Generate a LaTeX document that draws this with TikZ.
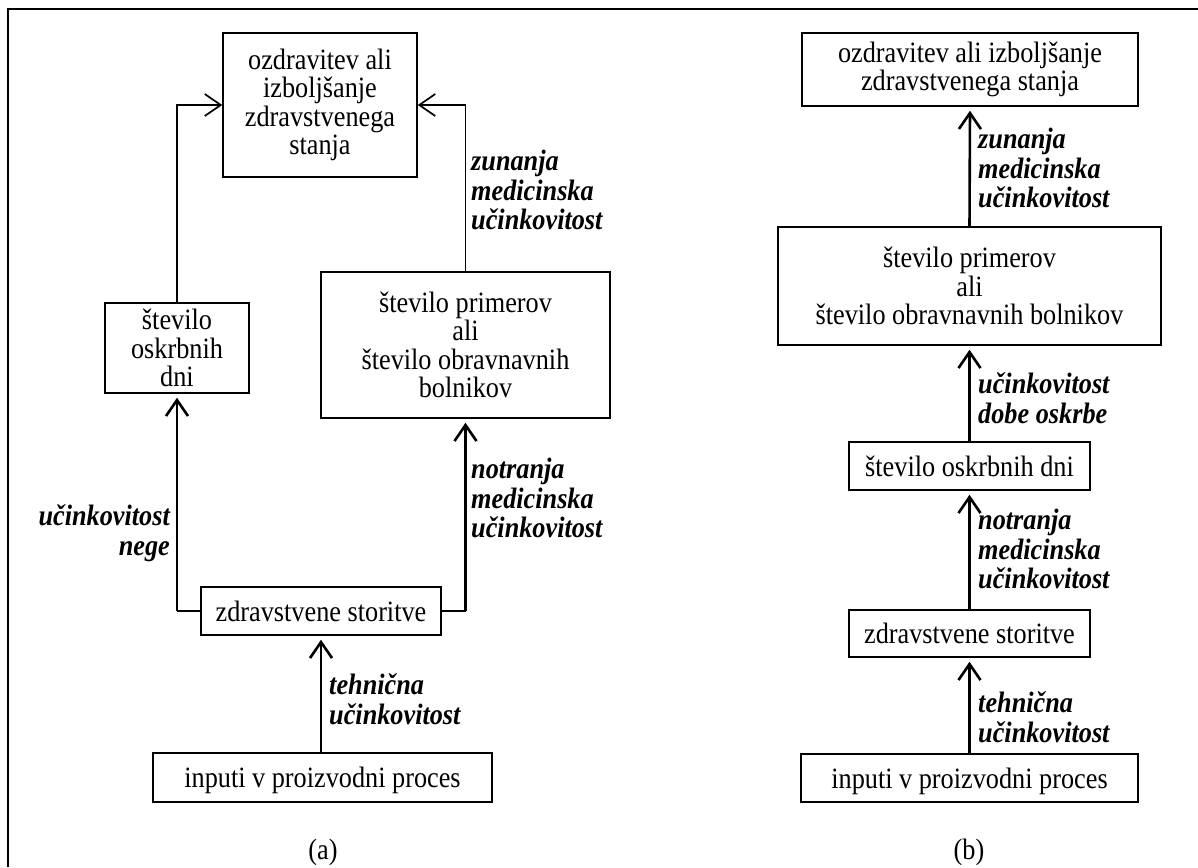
\documentclass[tikz,border=0pt]{standalone}
\usepackage{fontspec}
\setmainfont{Liberation Serif}[FakeStretch=0.89]
\usetikzlibrary{arrows.meta,positioning}
\tikzset{box node/.style={draw,line width=1.5pt,rectangle,align=center,inner sep=0pt,
		font=\fontsize{29.5}{28.3}\selectfont},
	one line/.style={text depth=0pt},
}

\begin{document}
\begin{tikzpicture}[x=1pt,y=-1pt,
		thick arrow/.style={-{Straight Barb[length=16pt,width=22pt]},line width=2.6pt,shorten >=4pt},
		thin arrow/.style={-{Straight Barb[length=16pt,width=22pt]},line width=1.7pt},
		label node/.style={inner sep=0pt,font=\fontsize{29.5}{29.8}\selectfont\bfseries\itshape}]
		\useasboundingbox (0,0) rectangle (1198,867);
		\draw[line width=1.6pt] (8,867) -- (8,9) -- (1198,9);
		
		% (a)
		\node[box node,minimum width=194pt,minimum height=144pt] (ha) at (320,105) {ozdravitev ali\\izboljšanje\\zdravstvenega\\stanja};
		\node[box node,minimum width=144pt,minimum height=90pt] (da) at (177,348) {število\\oskrbnih\\dni};
		\node[box node,minimum width=289pt,minimum height=146pt] (ca) at (465.5,345) {število primerov\\ali\\število obravnavnih\\bolnikov};
		\node[box node,one line,minimum width=240pt,minimum height=48pt] (sa) at (321,611) {zdravstvene storitve};
		\node[box node,one line,minimum width=339pt,minimum height=49pt] (ia) at (322.5,777.5) {inputi v proizvodni proces};
		
		\draw[thin arrow] (da.north) |- (ha.west);
		\draw[thin arrow] (ca.north) |- (ha.east);
		\draw[line width=1.6pt] (sa.west) -- (sa.west -| da.south);
		\draw[line width=1.6pt] (sa.east) -- (sa.east -| ca.south);
		\draw[thick arrow] (sa.west -| da.south) -- (da.south);
		\draw[thick arrow] (sa.east -| ca.south) -- (ca.south);
		\draw[thick arrow] (ia.north -| sa.south) -- (sa.south);
		
		\node[label node,anchor=west,align=left] (za) at (471,190) {zunanja\\medicinska\\učinkovitost};
		\node[label node,anchor=east,align=right] (na) at (170,533) {učinkovitost\\nege};
		\node[label node,anchor=west,align=left] (ta) at (471,498) {notranja\\medicinska\\učinkovitost};
		\node[label node,anchor=west,align=left] (te) at (329,699) {tehnična\\učinkovitost};
		\node[font=\fontsize{29.5}{28.3}\selectfont] (capa) at (323,852) {(a)};
		
		% (b)
		\node[box node,minimum width=336pt,minimum height=73pt] (hb) at (970,69.5) {ozdravitev ali izboljšanje\\zdravstvenega stanja};
		\node[box node,minimum width=383pt,minimum height=118pt] (cb) at (969.5,286) {število primerov\\ali\\število obravnavnih bolnikov};
		\node[box node,one line,minimum width=241pt,minimum height=48pt] (db) at (969.5,466) {število oskrbnih dni};
		\node[box node,one line,minimum width=241pt,minimum height=47pt] (sb) at (969.5,633.5) {zdravstvene storitve};
		\node[box node,one line,minimum width=337pt,minimum height=48pt] (ib) at (969.5,778) {inputi v proizvodni proces};
		
		\draw[thick arrow] (cb.north) -- (hb.south);
		\draw[thick arrow] (db.north) -- (cb.south);
		\draw[thick arrow] (sb.north) -- (db.south);
		\draw[thick arrow] (ib.north) -- (sb.south);
		
		\node[label node,anchor=west,align=left] (zb) at (978,168) {zunanja\\medicinska\\učinkovitost};
		\node[label node,anchor=west,align=left] (ub) at (978,398) {učinkovitost\\dobe oskrbe};
		\node[label node,anchor=west,align=left] (nb) at (978,549) {notranja\\medicinska\\učinkovitost};
		\node[label node,anchor=west,align=left] (tb) at (978,717) {tehnična\\učinkovitost};
		\node[font=\fontsize{29.5}{28.3}\selectfont] (capb) at (969,852) {(b)};
		\end{tikzpicture}
\end{document}
